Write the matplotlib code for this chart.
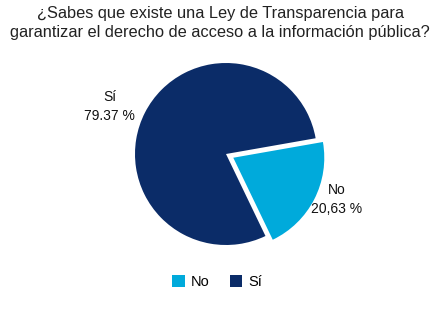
import matplotlib
matplotlib.use('Agg')
import matplotlib.pyplot as plt
import numpy as np

plt.rcParams['font.family'] = ['Liberation Sans', 'DejaVu Sans']

# data
labels = ['No', 'Sí']
values = [20.63, 79.37]
pct_text = ['20,63 %', '79.37 %']
colors = ['#00AADB', '#0B2C68']

title = ('¿Sabes que existe una Ley de Transparencia para\n'
         'garantizar el derecho de acceso a la información pública?')

W, H = 440, 330
fig = plt.figure(figsize=(W / 100, H / 100), dpi=100)
fig.patch.set_facecolor('white')

# pie axes: centre (226,154) px, radius 91 px
cx, cy, r = 226, 154, 91
half = 150
ax = fig.add_axes([(cx - half) / W, 1 - (cy + half) / H, 2 * half / W, 2 * half / H])
wedges, _ = ax.pie(values, colors=colors, startangle=-64.3, counterclock=True,
                   explode=[0.09, 0], radius=1)
lim = half / r
ax.set_xlim(-lim, lim)
ax.set_ylim(-lim, lim)
ax.set_aspect('equal')
ax.axis('off')

# slice labels (a bit rotated past the slice middle, like the original)
dists = [1.23, 1.38]
expl = [0.09, 0]
for w, lab, pt, d, e in zip(wedges, labels, pct_text, dists, expl):
    th = np.deg2rad((w.theta1 + w.theta2) / 2 + 5)
    thm = np.deg2rad((w.theta1 + w.theta2) / 2)
    x = e * np.cos(thm) + d * np.cos(th)
    y = e * np.sin(thm) + d * np.sin(th)
    ax.text(x, y, f'{lab}\n{pt}', ha='center', va='center', fontsize=10,
            color='#111111', linespacing=1.45)

fig.text(0.5, 1 - 23 / H, title, ha='center', va='center', fontsize=11.8,
         color='#222222', linespacing=1.35)

fig.legend(wedges, labels, loc='center', bbox_to_anchor=(217 / W, 1 - 282 / H),
           ncol=2, frameon=False, handlelength=0.85, handleheight=0.85,
           handletextpad=0.4, columnspacing=1.4, fontsize=10.5)

fig.savefig('out.png', dpi=100, facecolor='white')
